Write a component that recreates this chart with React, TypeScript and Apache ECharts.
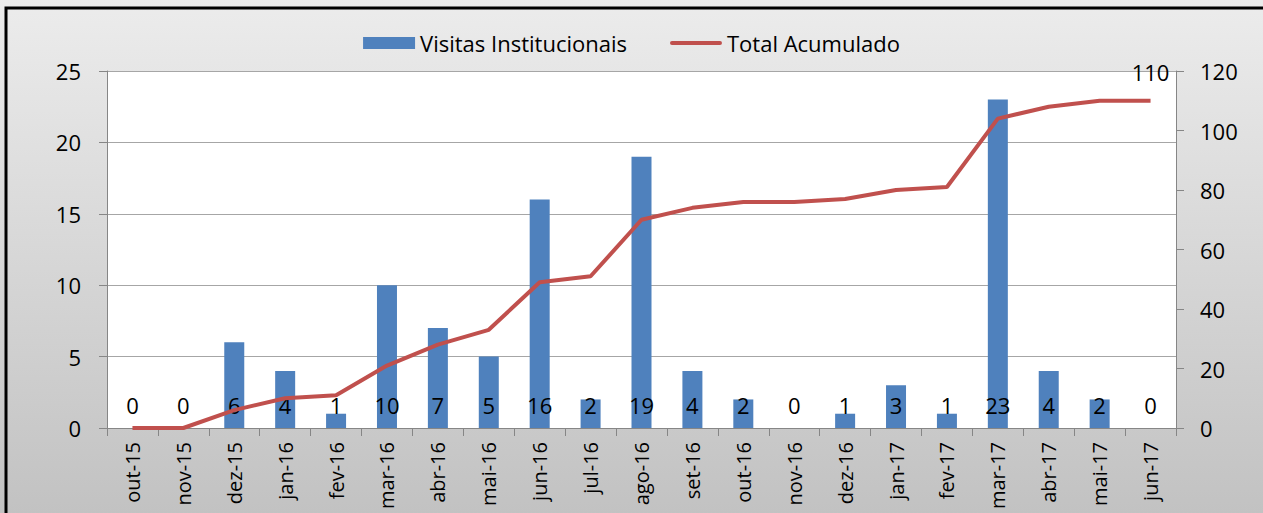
import React, { useEffect, useRef } from "react";
import * as echarts from "echarts";

const categories = [
  "out-15", "nov-15", "dez-15", "jan-16", "fev-16", "mar-16", "abr-16", "mai-16",
  "jun-16", "jul-16", "ago-16", "set-16", "out-16", "nov-16", "dez-16", "jan-17",
  "fev-17", "mar-17", "abr-17", "mai-17", "jun-17",
];
const visitas = [0, 0, 6, 4, 1, 10, 7, 5, 16, 2, 19, 4, 2, 0, 1, 3, 1, 23, 4, 2, 0];
const acumulado = [0, 0, 6, 10, 11, 21, 28, 33, 49, 51, 70, 74, 76, 76, 77, 80, 81, 104, 108, 110, 110];
const leftTicks = { min: 0, max: 25, interval: 5 };
const rightTicks = { min: 0, max: 120, interval: 20 };

const FONT = "Open Sans";

export default function App() {
  const ref = useRef<HTMLDivElement>(null);
  useEffect(() => {
    document.body.style.margin = "0";
    const chart = echarts.init(ref.current!, null, { renderer: "svg" });
    const lastIdx = acumulado.length - 1;
    chart.setOption({
      animation: false,
      backgroundColor: new echarts.graphic.LinearGradient(0, 0, 0, 1, [
        { offset: 0, color: "#ececec" },
        { offset: 1, color: "#c2c2c2" },
      ]),
      textStyle: { fontFamily: FONT },
      graphic: [
        {
          type: "rect",
          shape: { x: 6, y: 8, width: 1262, height: 520 },
          style: { fill: "none", stroke: "#000", lineWidth: 3 },
          z: 100,
        },
      ],
      legend: {
        top: 27,
        left: "center",
        itemWidth: 52,
        itemHeight: 12,
        itemGap: 43,
        textStyle: { fontSize: 22, color: "#000", fontFamily: FONT },
        data: [
          { name: "Visitas Institucionais", icon: "rect" },
          {
            name: "Total Acumulado",
            icon: "path://M2,0L50,0A2,2,0,0,1,50,4L2,4A2,2,0,0,1,2,0Z",
            itemStyle: { color: "#c0504d" },
          },
        ],
      },
      grid: {
        left: 107,
        right: 87,
        top: 71,
        bottom: 85,
        show: true,
        backgroundColor: "#ffffff",
        borderWidth: 0,
        outerBoundsMode: "none",
        containLabel: false,
      },
      xAxis: {
        type: "category",
        data: categories,
        axisLine: { lineStyle: { color: "#868686" } },
        axisTick: { show: true, length: 8, lineStyle: { color: "#868686" } },
        axisLabel: {
          rotate: 90,
          margin: 14,
          fontSize: 20,
          color: "#000",
          fontFamily: FONT,
          interval: 0,
        },
      },
      yAxis: [
        {
          type: "value",
          ...leftTicks,
          axisLine: { show: true, lineStyle: { color: "#868686" } },
          axisTick: { show: true, length: 8, lineStyle: { color: "#868686" } },
          axisLabel: { fontSize: 22, color: "#000", margin: 26, fontFamily: FONT },
          splitLine: { show: true, lineStyle: { color: "#a6a6a6" } },
        },
        {
          type: "value",
          ...rightTicks,
          position: "right",
          axisLine: { show: true, lineStyle: { color: "#868686" } },
          axisTick: { show: true, length: 8, lineStyle: { color: "#868686" } },
          axisLabel: { fontSize: 22, color: "#000", margin: 24, fontFamily: FONT },
          splitLine: { show: false },
        },
      ],
      series: [
        {
          name: "Visitas Institucionais",
          type: "bar",
          data: visitas,
          yAxisIndex: 0,
          barWidth: 20,
          itemStyle: { color: "#4f81bd" },
          label: {
            show: true,
            position: "insideBottom",
            distance: 12,
            fontSize: 22,
            color: "#000",
            fontFamily: FONT,
          },
          z: 2,
        },
        {
          name: "Total Acumulado",
          type: "line",
          data: acumulado,
          yAxisIndex: 1,
          symbol: "none",
          lineStyle: { color: "#c0504d", width: 4 },
          itemStyle: { color: "#c0504d" },
          markPoint: {
            symbol: "circle",
            symbolSize: 0,
            data: [
              {
                coord: [lastIdx, acumulado[lastIdx]],
                value: acumulado[lastIdx],
                label: {
                  show: true,
                  position: "top",
                  distance: 18,
                  fontSize: 22,
                  color: "#000",
                  fontFamily: FONT,
                },
              },
            ],
          },
          z: 3,
        },
      ],
    });
    return () => chart.dispose();
  }, []);
  return <div ref={ref} style={{ width: 1263, height: 513 }} />;
}
